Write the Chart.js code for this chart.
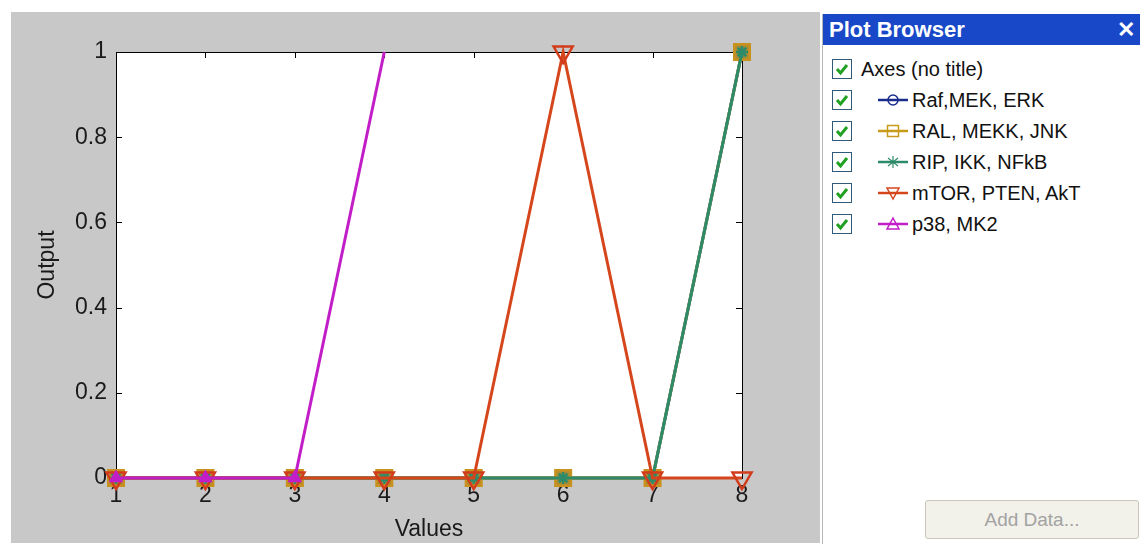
<!DOCTYPE html>
<html>
<head>
<meta charset="utf-8">
<script src="https://cdn.jsdelivr.net/npm/chart.js@4"></script>
<style>
  body { margin: 0; width: 1140px; height: 545px; background: #fff; position: relative; overflow: hidden; font-family: "Liberation Sans", Arial, sans-serif; }
  #figure { position: absolute; left: 11px; top: 12px; width: 809px; height: 531px; background: #c8c8c8; }
  #browser { position: absolute; left: 822px; top: 14px; width: 318px; height: 530px; background: #fff; border-left: 1px solid #b8b8b8; }
  #browser .bar { height: 31px; background: #1848c8; color: #fff; font-weight: bold; font-size: 22px; line-height: 31px; padding-left: 6px; position: relative; }
  #browser .bar span { position: absolute; right: 6px; top: 0; font-weight: bold; font-size: 22px; }
  .row { position: absolute; left: 9px; height: 22px; display: flex; align-items: center; font-size: 20px; color: #111; }
  .row svg.cb { margin-right: 9px; }
  .row svg.ic { margin-left: 17px; margin-right: 4px; }
  #add { position: absolute; left: 102px; top: 486px; width: 212px; height: 37px; background: #f2f1ea; border: 1px solid #c9c7bc; border-radius: 3px; color: #a3a3a3; font-size: 19px; text-align: center; line-height: 37px; }
</style>
</head>
<body>
<div id="figure"><canvas id="chart" width="809" height="531"></canvas></div>
<div id="browser">
  <div class="bar">Plot Browser<span>✕</span></div>
  <div id="rows"></div>
  <div id="add">Add Data...</div>
</div>
<script>
const xValues = [1, 2, 3, 4, 5, 6, 7, 8];
const seriesNames = ["Raf,MEK, ERK", "RAL, MEKK, JNK", "RIP, IKK, NFkB", "mTOR, PTEN, AkT", "p38, MK2"];
const rafMekErk = [0, 0, 0, 0, 0, 0, 0, 1];
const ralMekkJnk = [0, 0, 0, 0, 0, 0, 0, 1];
const ripIkkNfkb = [0, 0, 0, 0, 0, 0, 0, 1];
const mtorPtenAkt = [0, 0, 0, 0, 0, 1, 0, 0];
const p38Mk2 = [0, 0, 0, 1];
const yTicks = [0, 0.2, 0.4, 0.6, 0.8, 1];

const colors = ["#1a2d8c", "#c89a1a", "#2e8b6a", "#d5461c", "#c21ec8"];

// white plot box, black frame and inward ticks like matlab
const axesBox = {
  id: "axesBox",
  beforeDatasetsDraw(chart) {
    const { ctx, chartArea: a, scales } = chart;
    ctx.save();
    ctx.strokeStyle = "#000";
    ctx.lineWidth = 1;
    ctx.strokeRect(a.left + 0.5, a.top + 0.5, a.right - a.left, a.bottom - a.top);
    ctx.beginPath();
    xValues.forEach((v, i) => {
      const px = Math.round(scales.x.getPixelForTick(i)) + 0.5;
      ctx.moveTo(px, a.bottom); ctx.lineTo(px, a.bottom - 6);
      ctx.moveTo(px, a.top); ctx.lineTo(px, a.top + 6);
    });
    yTicks.forEach(v => {
      const py = Math.round(scales.y.getPixelForValue(v)) + 0.5;
      ctx.moveTo(a.left, py); ctx.lineTo(a.left + 6, py);
      ctx.moveTo(a.right, py); ctx.lineTo(a.right - 6, py);
    });
    ctx.stroke();
    ctx.restore();
  },
  beforeDraw(chart) {
    const { ctx, chartArea: a } = chart;
    ctx.save();
    ctx.fillStyle = "#fff";
    ctx.fillRect(a.left, a.top, a.right - a.left, a.bottom - a.top);
    ctx.restore();
  }
};

const tickFont = { family: "Liberation Sans", size: 23 };

new Chart(document.getElementById("chart"), {
  type: "line",
  data: {
    labels: xValues.map(String),
    datasets: [
      {
        label: seriesNames[0], data: rafMekErk, order: 5,
        borderColor: colors[0], pointStyle: "circle", pointRadius: 6,
        pointBorderColor: colors[0], pointBackgroundColor: "rgba(0,0,0,0)"
      },
      {
        label: seriesNames[1], data: ralMekkJnk, order: 4,
        borderColor: colors[1], pointStyle: "rect", pointRadius: 11,
        pointBorderColor: "#c9921e", pointBackgroundColor: "#a88c34"
      },
      {
        label: seriesNames[2], data: ripIkkNfkb, order: 3,
        borderColor: colors[2], pointStyle: "star", pointRadius: 6,
        pointBorderColor: colors[2], pointBackgroundColor: colors[2]
      },
      {
        label: seriesNames[3], data: mtorPtenAkt, order: 2,
        borderColor: colors[3], pointStyle: "triangle", pointRotation: 180, pointRadius: 11,
        pointBorderColor: "#d23c1c", pointBackgroundColor: "rgba(0,0,0,0)"
      },
      {
        label: seriesNames[4], data: p38Mk2, order: 1,
        borderColor: colors[4], pointStyle: "triangle",
        pointRadius: c => (c.dataIndex < 3 ? 6 : 0),
        pointBorderColor: colors[4], pointBackgroundColor: colors[4]
      }
    ]
  },
  options: {
    animation: false,
    responsive: false,
    events: [],
    layout: { padding: { top: 40, right: 78, left: 0, bottom: 0 } },
    datasets: {
      line: { borderWidth: 3, tension: 0, clip: false, pointBorderWidth: 2.5 }
    },
    plugins: { legend: { display: false }, tooltip: { enabled: false } },
    scales: {
      x: {
        type: "category",
        offset: false,
        grid: { display: false, drawTicks: false },
        border: { display: false },
        ticks: { color: "#1a1a1a", font: tickFont, padding: 4, maxRotation: 0 },
        title: { display: true, text: "Values", color: "#1a1a1a", font: tickFont, padding: 0 },
        afterFit(s) { s.height = 65; }
      },
      y: {
        min: 0, max: 1,
        grid: { display: false, drawTicks: false },
        border: { display: false },
        afterBuildTicks(s) { s.ticks = yTicks.map(v => ({ value: v })); },
        ticks: {
          color: "#1a1a1a", font: tickFont, padding: 9,
          callback: v => String(Number(v.toFixed(1)))
        },
        title: { display: true, text: "Output", color: "#1a1a1a", font: tickFont, padding: { top: 23, bottom: 0 } },
        afterFit(s) { s.width = 105; }
      }
    }
  },
  plugins: [axesBox]
});

// plot browser rows
const checkSvg = '<svg class="cb" width="20" height="20"><rect x="0.5" y="0.5" width="19" height="19" fill="#fff" stroke="#2f5a7a"/>' +
  '<path d="M5 10 L8.5 14 L15 6" fill="none" stroke="#21a121" stroke-width="3"/></svg>';
const markerSvg = [
  c => `<circle cx="15" cy="10" r="5" fill="none" stroke="${c}" stroke-width="1.5"/>`,
  c => `<rect x="9.5" y="4.5" width="11" height="11" fill="none" stroke="${c}" stroke-width="1.5"/>`,
  c => `<path d="M15 4 V16 M10 6 L20 14 M10 14 L20 6" stroke="${c}" stroke-width="1.2"/>`,
  c => `<path d="M9 5 H21 L15 16 Z" fill="none" stroke="${c}" stroke-width="1.5"/>`,
  c => `<path d="M9 15 H21 L15 4 Z" fill="none" stroke="${c}" stroke-width="1.5"/>`
];
const rows = document.getElementById("rows");
const rowY = [44, 75, 106, 137, 168, 199];
let html = `<div class="row" style="top:${rowY[0]}px">${checkSvg}Axes (no title)</div>`;
seriesNames.forEach((name, i) => {
  const icon = `<svg class="ic" width="30" height="20"><line x1="0" y1="10" x2="30" y2="10" stroke="${colors[i]}" stroke-width="2.5"/>${markerSvg[i](colors[i])}</svg>`;
  html += `<div class="row" style="top:${rowY[i + 1]}px">${checkSvg}${icon}${name}</div>`;
});
rows.innerHTML = html;
</script>
</body>
</html>
